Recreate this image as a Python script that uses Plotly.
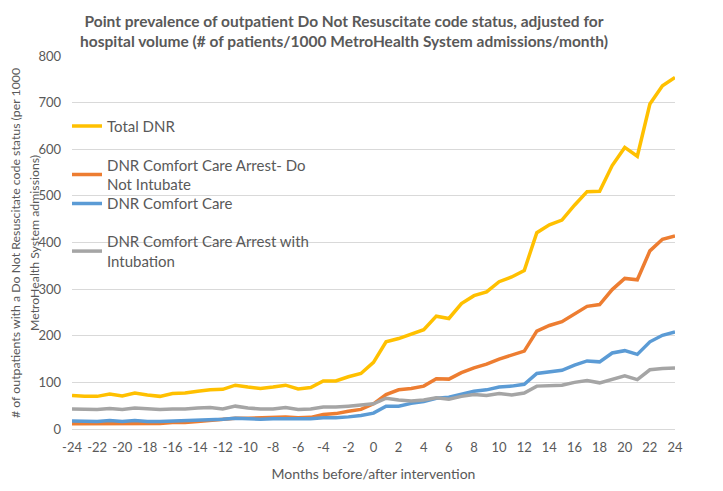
import plotly.graph_objects as go

months = list(range(-24, 25))

total_dnr = [72, 70, 70, 75, 71, 77, 73, 70, 76, 77, 81, 84, 85, 94, 90, 87, 90, 94, 86, 89,
             103, 103, 112, 119, 143, 187, 194, 203, 213, 242, 237, 269, 286, 294, 316, 326, 340,
             421, 438, 448, 480, 509, 510, 565, 604, 585, 697, 736, 754]
dnrcca_dni = [11, 11, 11, 12, 12, 12, 12, 12, 14, 14, 16, 18, 21, 23, 23, 24, 26, 26, 24, 25,
              31, 33, 38, 42, 54, 74, 84, 87, 92, 108, 107, 121, 131, 139, 150, 158, 167,
              210, 222, 230, 247, 263, 267, 299, 323, 320, 382, 407, 414]
dnrcc = [17, 16, 16, 18, 16, 18, 16, 16, 17, 17, 18, 19, 21, 23, 22, 21, 22, 22, 21, 22,
         24, 24, 26, 29, 34, 49, 49, 55, 59, 66, 68, 75, 81, 84, 90, 92, 96,
         119, 123, 126, 137, 146, 144, 163, 168, 160, 187, 201, 208]
dnrcca_int = [43, 42, 42, 44, 42, 45, 43, 42, 43, 43, 45, 46, 43, 49, 45, 43, 43, 46, 42, 43,
              47, 47, 49, 51, 54, 66, 62, 60, 62, 67, 64, 70, 74, 72, 76, 73, 77,
              92, 93, 94, 100, 104, 99, 107, 114, 106, 127, 130, 131]

series_names = ["Total DNR",
                "DNR Comfort Care Arrest- Do<br>Not Intubate",
                "DNR Comfort Care",
                "DNR Comfort Care Arrest with<br>Intubation"]
series_values = [total_dnr, dnrcca_dni, dnrcc, dnrcca_int]
colors = ["#FFC000", "#ED7D31", "#5B9BD5", "#A5A5A5"]
legend_ids = ["legend", "legend2", "legend3", "legend4"]

x_ticks = list(range(-24, 25, 2))
y_ticks = [0, 100, 200, 300, 400, 500, 600, 700, 800]

y_title_lines = ["# of outpatients with a Do Not Resuscitate code status (per 1000",
                 "MetroHealth System admissions)"]

FONT = "Lato, 'Liberation Sans', sans-serif"
TXT = "#595959"

# page body has an 8px margin; figure is offset by (8, 8)
OFF = 8
W, H = 723 - OFF, 491 - OFF
PL, PT = 72 - OFF, 56 - OFF        # plot-area left/top in figure coords
PW, PH = 603, 375

fig = go.Figure()
for name, vals, col, lg in zip(series_names, series_values, colors, legend_ids):
    fig.add_trace(go.Scatter(x=months, y=vals, mode="lines", name=name,
                             line=dict(color=col, width=3.5), legend=lg))

def ly(py):   # page pixel y -> paper y
    return (431 - py) / PH

def lx(px):   # page pixel x -> paper x
    return (px - 72) / PW

legend_tops = [110, 149, 188, 226]
leg_common = dict(font=dict(family=FONT, size=15, color=TXT), bgcolor="rgba(0,0,0,0)",
                  x=lx(67), xanchor="left", yanchor="top", itemwidth=30, tracegroupgap=0)
layout_legends = {}
for lg, top in zip(legend_ids, legend_tops):
    layout_legends[lg] = dict(leg_common, y=ly(top))

fig.update_layout(
    width=W, height=H,
    margin=dict(l=PL, r=W - PL - PW, t=PT, b=H - PT - PH),
    paper_bgcolor="white", plot_bgcolor="white",
    font=dict(family=FONT, color=TXT),
    title=dict(text="Point prevalence of outpatient Do Not Resuscitate code status, adjusted for<br>hospital volume (# of patients/1000 MetroHealth System admissions/month)",
               font=dict(family=FONT, size=15.5, color=TXT, weight="bold"),
               x=(344 - OFF) / W, xref="container", xanchor="center",
               y=1 - (27 - OFF) / H, yref="container", yanchor="middle"),
    showlegend=True,
    **layout_legends,
)
fig.update_xaxes(range=[-24, 24], tickvals=x_ticks, ticktext=[str(v) for v in x_ticks],
                 showgrid=False, zeroline=False, showline=True, linecolor="#D9D9D9", linewidth=1,
                 ticks="", ticklabelstandoff=6, tickfont=dict(family=FONT, size=13, color=TXT),
                 title=dict(text="Months before/after intervention", font=dict(family=FONT, size=14, color=TXT),
                            standoff=15))
fig.update_yaxes(range=[0, 800], tickvals=y_ticks, showgrid=True, gridcolor="#D9D9D9", gridwidth=1,
                 zeroline=False, showline=False, ticks="", ticklabelstandoff=10,
                 tickfont=dict(family=FONT, size=13, color=TXT))
for line, xc in zip(y_title_lines, [16, 35]):
    fig.add_annotation(text=line, xref="paper", yref="paper", x=lx(xc), y=ly(244),
                       xanchor="center", yanchor="middle", textangle=-90, showarrow=False,
                       font=dict(family=FONT, size=12.3, color=TXT))

fig.write_html("out.html")
